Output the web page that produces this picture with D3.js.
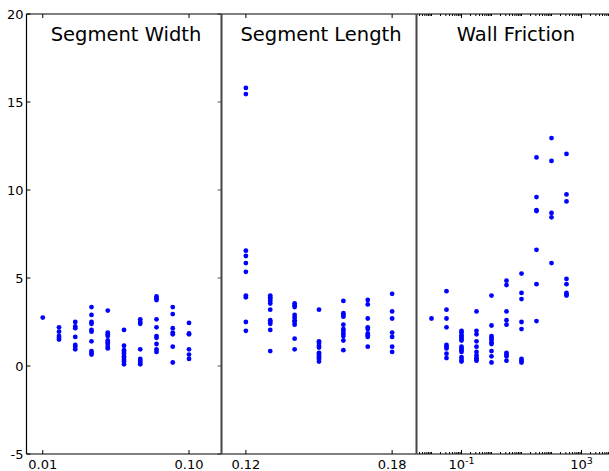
<!DOCTYPE html>
<html><head><meta charset="utf-8">
<script src="https://cdn.jsdelivr.net/npm/d3@7"></script>
<style>body{margin:0;background:#fff}svg{display:block}</style>
</head><body>
<script>
// ---- data ----
const yTicks = [20, 15, 10, 5, 0, -5];
const panelTitles = ["Segment Width", "Segment Length", "Wall Friction"];

const widthX = [0.01, 0.02, 0.03, 0.04, 0.05, 0.06, 0.07, 0.08, 0.09, 0.10];
const widthY = [
  [2.75],
  [2.2, 1.95, 1.7, 1.6, 1.5],
  [2.5, 2.25, 2.15, 1.65, 1.2, 1.1, 0.95],
  [3.35, 2.9, 2.5, 2.4, 2.05, 1.95, 1.4, 0.85, 0.75, 0.65],
  [3.15, 1.9, 1.8, 1.7, 1.45, 1.35, 1.25, 1.1, 1.0],
  [2.05, 1.15, 0.9, 0.8, 0.7, 0.55, 0.45, 0.35, 0.25, 0.1],
  [2.65, 2.5, 2.4, 0.95, 0.4, 0.3, 0.2, 0.1],
  [3.95, 3.85, 3.75, 2.65, 2.2, 1.7, 1.6, 1.25, 0.95, 0.8],
  [3.35, 2.95, 2.15, 1.9, 1.8, 1.1, 0.2],
  [2.45, 1.85, 1.8, 0.95, 0.65, 0.4]
];
const widthTicks = [0.01, 0.10];
const widthTickLabels = ["0.01", "0.10"];

const lengthX = [0.12, 0.13, 0.14, 0.15, 0.16, 0.17, 0.18];
const lengthY = [
  [15.8, 15.45, 6.55, 6.25, 5.85, 5.35, 4.0, 3.9, 2.5, 2.0],
  [4.0, 3.9, 3.8, 3.7, 3.55, 3.2, 2.6, 2.5, 2.4, 2.05, 0.85],
  [3.55, 3.45, 3.35, 2.9, 2.75, 2.6, 2.5, 2.35, 1.55, 0.95],
  [3.2, 1.4, 1.3, 1.15, 1.05, 0.75, 0.7, 0.6, 0.5, 0.4, 0.25],
  [3.7, 3.0, 2.9, 2.8, 2.35, 2.1, 2.0, 1.85, 1.7, 1.45, 0.9],
  [3.75, 3.5, 2.7, 2.2, 2.1, 1.85, 1.75, 1.65, 1.1],
  [4.1, 3.1, 2.7, 1.9, 1.65, 1.1, 0.8]
];
const lengthTicks = [0.12, 0.18];
const lengthTickLabels = ["0.12", "0.18"];

const frictionX = [0.01, 0.0316, 0.1, 0.316, 1, 3.16, 10, 31.6, 100, 316];
const frictionY = [
  [2.7],
  [4.25, 3.2, 2.7, 2.2, 1.2, 1.1, 1.0, 0.7, 0.45],
  [2.0, 1.9, 1.75, 1.65, 1.55, 1.45, 1.1, 1.0, 0.9, 0.8, 0.5, 0.35, 0.25],
  [3.1, 2.0, 1.8, 1.4, 1.1, 0.8, 0.6, 0.45, 0.4, 0.3],
  [4.0, 2.3, 1.7, 1.6, 1.5, 1.35, 1.25, 0.85, 0.55, 0.2],
  [4.85, 4.6, 3.1, 2.6, 2.35, 0.75, 0.65, 0.55, 0.3],
  [5.25, 4.15, 3.8, 2.5, 2.1, 0.4, 0.3, 0.2],
  [11.85, 9.6, 8.85, 8.8, 6.6, 4.65, 2.55],
  [12.95, 11.65, 8.7, 8.45, 5.85],
  [12.05, 9.75, 9.35, 4.95, 4.65, 4.15, 4.05, 4.0]
];
const frictionTicks = [0.1, 1000];
const frictionTickExp = ["-1", "3"];

// ---- layout ----
const W = 609, H = 471;
const yTop = 14, yBot = 454;
const pw = 195;
const left0 = 26.5;
const font = "DejaVu Sans, sans-serif";

const svg = d3.select("body").append("svg").attr("width", W).attr("height", H)
  .style("font-family", font);

const y = d3.scaleLinear().domain([-5, 20]).range([yBot, yTop]);

const panels = [
  {x: d3.scaleLinear().domain([0, 0.12]), xs: widthX, ys: widthY, ticks: widthTicks, labels: widthTickLabels},
  {x: d3.scaleLinear().domain([0.11, 0.19]), xs: lengthX, ys: lengthY, ticks: lengthTicks, labels: lengthTickLabels},
  {x: d3.scaleLog().domain([Math.pow(10, -2.5), 1e4]), xs: frictionX, ys: frictionY, ticks: frictionTicks, exps: frictionTickExp, log: true}
];

panels.forEach((p, i) => {
  const x0 = left0 + i * pw, x1 = x0 + pw;
  p.x.range([x0, x1]);
  const g = svg.append("g");

  // title
  g.append("text").attr("x", (x0 + Math.min(x1, 612)) / 2 + 2).attr("y", 41)
    .attr("text-anchor", "middle").attr("font-size", 19.5).attr("fill", "#000")
    .text(panelTitles[i]);

  // points
  p.xs.forEach((xv, j) => {
    g.selectAll(null).data(p.ys[j]).enter().append("circle")
      .attr("cx", p.x(xv)).attr("cy", d => y(d)).attr("r", 2.4)
      .attr("fill", "#0000ff");
  });

  // x ticks (major) top & bottom, inward
  p.ticks.forEach((t, k) => {
    const xp = p.x(t);
    g.append("line").attr("x1", xp).attr("x2", xp).attr("y1", yBot).attr("y2", yBot - 4).attr("stroke", "#000");
    g.append("line").attr("x1", xp).attr("x2", xp).attr("y1", yTop).attr("y2", yTop + 4).attr("stroke", "#000");
    const tx = g.append("text").attr("x", xp).attr("y", 469).attr("text-anchor", "middle")
      .attr("font-size", 13).attr("fill", "#000");
    if (p.log) {
      tx.append("tspan").text("10");
      tx.append("tspan").attr("dy", -5).attr("font-size", 9.5).text(p.exps[k]);
    } else {
      tx.text(p.labels[k]);
    }
  });

  // log minor ticks
  if (p.log) {
    const minors = [];
    for (let e = -3; e <= 3; e++) for (let m = 2; m <= 9; m++) {
      const v = m * Math.pow(10, e);
      if (v >= p.x.domain()[0] && v <= p.x.domain()[1]) minors.push(v);
    }
    [0.01, 1, 10, 100].forEach(v => minors.push(v));
    minors.forEach(v => {
      const xp = p.x(v);
      g.append("line").attr("x1", xp).attr("x2", xp).attr("y1", yBot).attr("y2", yBot - 2).attr("stroke", "#000");
      g.append("line").attr("x1", xp).attr("x2", xp).attr("y1", yTop).attr("y2", yTop + 2).attr("stroke", "#000");
    });
  }

  // y ticks on first panel only (both sides, inward)
  if (i === 0) {
    yTicks.forEach(t => {
      const yp = y(t);
      g.append("line").attr("x1", x0).attr("x2", x0 + 4).attr("y1", yp).attr("y2", yp).attr("stroke", "#000");
      g.append("line").attr("x1", x1).attr("x2", x1 - 4).attr("y1", yp).attr("y2", yp).attr("stroke", "#555");
      g.append("text").attr("x", x0 - 3).attr("y", yp + 4.5).attr("text-anchor", "end")
        .attr("font-size", 13).attr("fill", "#000").text(t);
    });
  }

  // frame: top & bottom
  g.append("line").attr("x1", x0).attr("x2", x1).attr("y1", yTop).attr("y2", yTop).attr("stroke", "#000").attr("stroke-width", 1.2);
  g.append("line").attr("x1", x0).attr("x2", x1).attr("y1", yBot).attr("y2", yBot).attr("stroke", "#000").attr("stroke-width", 1.2);
  // left spine
  g.append("line").attr("x1", x0).attr("x2", x0).attr("y1", yTop).attr("y2", yBot)
    .attr("stroke", i === 0 ? "#000" : "#444").attr("stroke-width", i === 0 ? 1.2 : 2);
});
</script>
</body></html>
